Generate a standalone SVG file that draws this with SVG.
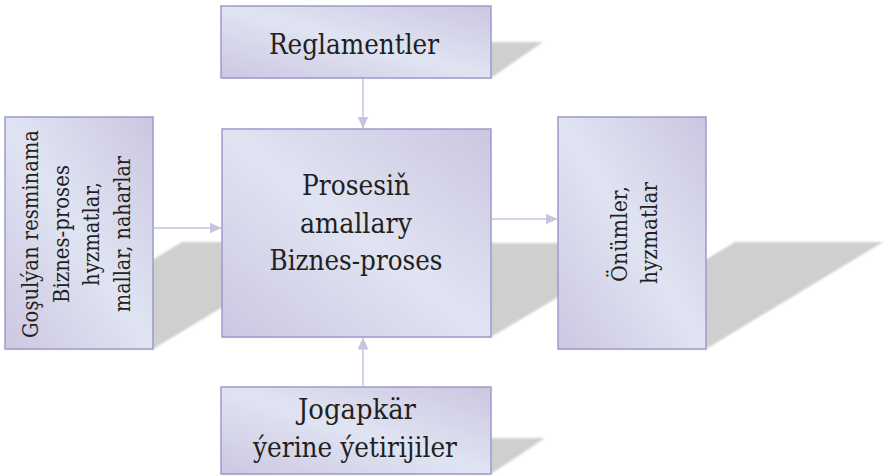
<svg xmlns="http://www.w3.org/2000/svg" width="883" height="476" viewBox="0 0 883 476">
<defs>
<linearGradient id="boxfill" x1="1" y1="0" x2="0" y2="1">
<stop offset="0" stop-color="#cbc6e1"/>
<stop offset="0.5" stop-color="#e0e4f2"/>
<stop offset="1" stop-color="#ccc7e2"/>
</linearGradient>
<filter id="soft" x="-5%" y="-5%" width="110%" height="110%">
<feGaussianBlur stdDeviation="0.8"/>
</filter>
<marker id="arr" markerUnits="userSpaceOnUse" markerWidth="12" markerHeight="11" refX="12" refY="5.5" orient="auto">
<path d="M0,0 L12,5.5 L0,11 z" fill="#c7c3e2"/>
</marker>
</defs>
<style>
.shadow{fill:#cfcfcf;filter:url(#soft)}
.box{fill:url(#boxfill);stroke:#9e99cd;stroke-width:1.5}
.t{font-family:"DejaVu Serif","Liberation Serif",serif;font-size:28.5px;fill:#231f20;text-anchor:middle}
.tr{font-family:"DejaVu Serif","Liberation Serif",serif;font-size:23px;fill:#231f20;text-anchor:middle}
.conn{stroke:#c7c3e2;stroke-width:1.5;fill:none;marker-end:url(#arr)}
</style>
<rect width="883" height="476" fill="#ffffff"/>

<g id="node-reglamentler">
<polygon class="shadow" points="221,78 491,78 543,42 273,42"/>
<rect class="box" x="221" y="6" width="270" height="72"/>
<text class="t" x="354" y="54" textLength="170" lengthAdjust="spacingAndGlyphs">Reglamentler</text>
</g>

<g id="node-inputs">
<polygon class="shadow" points="5,349 153,349 330,242 182,242"/>
<rect class="box" x="5" y="117" width="148" height="232"/>
<text class="tr" transform="rotate(-90)" x="-234" y="38" textLength="208" lengthAdjust="spacingAndGlyphs">Goşulýan resminama</text>
<text class="tr" transform="rotate(-90)" x="-234" y="68.7" textLength="138" lengthAdjust="spacingAndGlyphs">Biznes-proses</text>
<text class="tr" transform="rotate(-90)" x="-234" y="99.3" textLength="104" lengthAdjust="spacingAndGlyphs">hyzmatlar,</text>
<text class="tr" transform="rotate(-90)" x="-234" y="130" textLength="156" lengthAdjust="spacingAndGlyphs">mallar, naharlar</text>
</g>

<g id="node-process">
<polygon class="shadow" points="222,337 491,337 649,243 380,243"/>
<rect class="box" x="222" y="129" width="269" height="208"/>
<text class="t" x="356" y="195" textLength="108" lengthAdjust="spacingAndGlyphs">Prosesiň</text>
<text class="t" x="356" y="233" textLength="112" lengthAdjust="spacingAndGlyphs">amallary</text>
<text class="t" x="356" y="270" textLength="173" lengthAdjust="spacingAndGlyphs">Biznes-proses</text>
</g>

<g id="node-outputs">
<polygon class="shadow" points="558,349 706,349 883,242 735,242"/>
<rect class="box" x="558" y="117" width="148" height="232"/>
<text class="tr" transform="rotate(-90)" x="-234" y="627" textLength="96" lengthAdjust="spacingAndGlyphs">Önümler,</text>
<text class="tr" transform="rotate(-90)" x="-233" y="657" textLength="102" lengthAdjust="spacingAndGlyphs">hyzmatlar</text>
</g>

<g id="node-responsible">
<polygon class="shadow" points="221,474 491,474 545,438 275,438"/>
<rect class="box" x="221" y="387" width="270" height="87"/>
<text class="t" x="357" y="419" textLength="118" lengthAdjust="spacingAndGlyphs">Jogapkär</text>
<text class="t" x="355" y="457" textLength="204" lengthAdjust="spacingAndGlyphs">ýerine ýetirijiler</text>
</g>

<g id="connectors">
<line class="conn" x1="363" y1="78.75" x2="363" y2="128.5"/>
<line class="conn" x1="363" y1="386.25" x2="363" y2="337.5"/>
<line class="conn" x1="153.75" y1="228" x2="221.5" y2="228"/>
<line class="conn" x1="491.75" y1="219" x2="557.5" y2="219"/>
</g>
</svg>
